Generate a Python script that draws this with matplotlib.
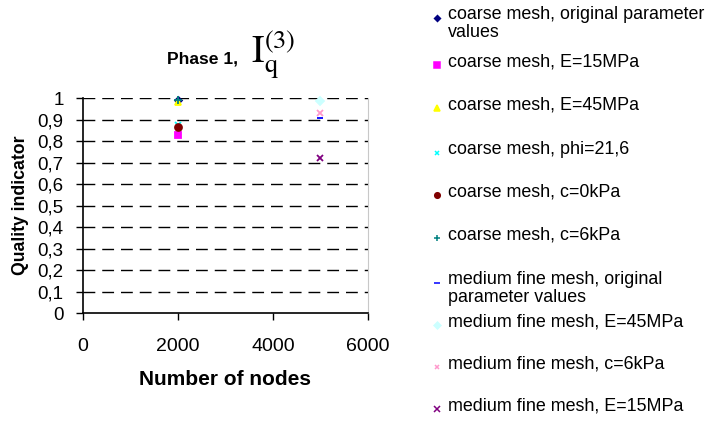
import matplotlib
matplotlib.use("Agg")
import matplotlib.pyplot as plt
from matplotlib.lines import Line2D

plt.rcParams['font.family'] = ['Liberation Sans', 'DejaVu Sans']
plt.rcParams['mathtext.fontset'] = 'stix'

# series data
labels = [
    "coarse mesh, original parameter\nvalues",
    "coarse mesh, E=15MPa",
    "coarse mesh, E=45MPa",
    "coarse mesh, phi=21,6",
    "coarse mesh, c=0kPa",
    "coarse mesh, c=6kPa",
    "medium fine mesh, original\nparameter values",
    "medium fine mesh, E=45MPa",
    "medium fine mesh, c=6kPa",
    "medium fine mesh, E=15MPa",
]
nodes = [2000, 2000, 2000, 2000, 2000, 2000, 5000, 5000, 5000, 5000]
quality = [0.99, 0.83, 0.98, 0.875, 0.865, 0.99, 0.91, 0.985, 0.93, 0.72]
markers = ['D', 's', '^', 'x', 'o', '+', '_', 'D', 'x', 'x']
colors = ['#000080', '#FF00FF', '#FFFF00', '#00FFFF', '#800000',
          '#008080', '#0000FF', '#CCFFFF', '#FF99CC', '#800080']
sizes = [3.5, 5, 5, 4.5, 5, 5.5, 5, 4.5, 4.5, 5]

yticks = [0, 0.1, 0.2, 0.3, 0.4, 0.5, 0.6, 0.7, 0.8, 0.9, 1]
xticks = [0, 2000, 4000, 6000]

fig = plt.figure(figsize=(7.06, 4.25), dpi=100)
ax = fig.add_axes([0.1176, 0.2635, 0.4035, 0.5055])

for i in range(len(labels)):
    ax.plot(nodes[i], quality[i], linestyle='none', marker=markers[i],
            color=colors[i], markersize=sizes[i], markeredgewidth=1.3,
            clip_on=False, zorder=3)

ax.set_xlim(0, 6000)
ax.set_ylim(0, 1)
ax.set_xticks(xticks)
ax.set_xticklabels([str(v) for v in xticks], fontsize=14)
ax.set_yticks(yticks)
ax.set_yticklabels([("%g" % v).replace('.', ',') for v in yticks], fontsize=13.5)
ax.tick_params(direction='out', length=5, width=1)
ax.tick_params(axis='x', pad=13)
ax.tick_params(axis='y', pad=9)

for v in yticks[1:]:
    ax.axhline(v, color='black', linestyle=(0, (8.5, 5)), linewidth=1, zorder=1)

ax.spines['top'].set_visible(False)
ax.spines['right'].set_color('#c8c8c8')
ax.spines['left'].set_linewidth(1.2)
ax.spines['bottom'].set_linewidth(1.2)

ax.set_xlabel("Number of nodes", fontsize=15, fontweight='bold')
ax.set_ylabel("Quality indicator", fontsize=12.7, fontweight='bold')
ax.xaxis.set_label_coords(0.5, -0.265)
ax.yaxis.set_label_coords(-0.19, 0.5)

# title
fig.text(0.337, 0.862, "Phase 1,", fontsize=12.6, fontweight='bold',
         ha='right', va='center')
fig.text(0.355, 0.87, r"$\mathrm{I}_{\mathrm{q}}^{(3)}$", fontsize=27,
         ha='left', va='center')

# legend drawn manually, Excel style
leg_y = [18, 65, 108, 153, 195, 238, 283, 325, 367, 409]
for i in range(len(labels)):
    yf = 1 - leg_y[i] / 425.0
    fig.add_artist(Line2D([437 / 706.0], [yf], marker=markers[i],
                          color=colors[i], markersize=max(sizes[i] - 1, 3),
                          markeredgewidth=1.1, linestyle='none',
                          transform=fig.transFigure))
    fig.text(448 / 706.0, yf + 0.028, labels[i], fontsize=12.9, ha='left',
             va='top', linespacing=1.1)

fig.savefig("out.png", dpi=100)
